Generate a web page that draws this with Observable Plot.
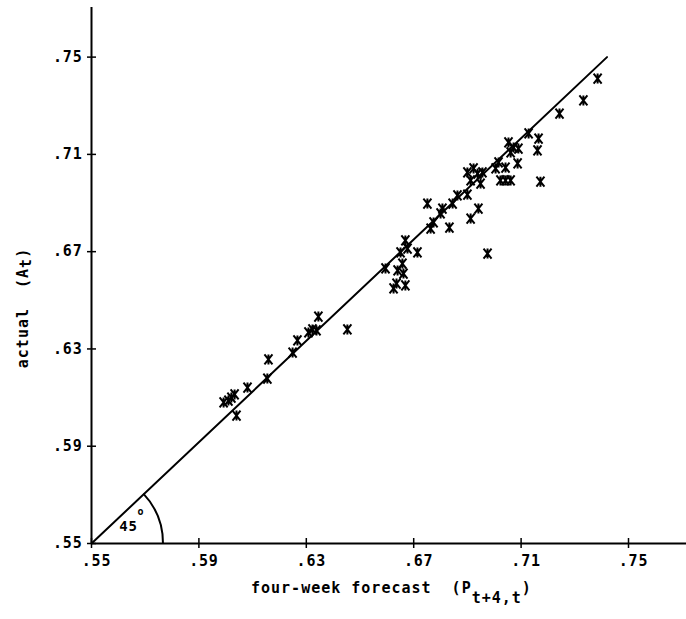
<!DOCTYPE html>
<html><head><meta charset="utf-8">
<script src="https://cdn.jsdelivr.net/npm/d3@7"></script>
<script src="https://cdn.jsdelivr.net/npm/@observablehq/plot@0.6"></script>
<style>
body{margin:0;background:#fff;}
#chart svg{display:block;}
</style></head><body><div id="chart"></div>
<script>
// four-week forecast (x) and actual (y)
const forecast = [0.5992,0.6010,0.6021,0.6033,0.6040,0.6081,0.6155,0.6159,0.6249,0.6267,0.6308,0.6323,0.6338,0.6345,0.6453,
  0.6595,0.6625,0.6636,0.6669,0.6640,0.6662,0.6658,0.6651,0.6669,0.6677,0.6714,0.6751,0.6763,0.6774,0.6800,0.6807,0.6833,0.6845,0.6863,0.6900,0.6912,0.6941,0.6975,
  0.6900,0.6912,0.6923,0.6938,0.6949,0.6956,0.7005,0.7016,0.7023,0.7042,0.7061,0.7042,0.7087,0.7053,0.7061,0.7072,0.7090,0.7128,0.7165,0.7161,0.7172,0.7243,0.7332,0.7385];
const actual = [0.6080,0.6088,0.6100,0.6113,0.6026,0.6141,0.6178,0.6257,0.6285,0.6335,0.6368,0.6380,0.6376,0.6433,0.6380,
  0.6631,0.6549,0.6569,0.6561,0.6623,0.6610,0.6651,0.6697,0.6746,0.6713,0.6697,0.6898,0.6795,0.6820,0.6857,0.6877,0.6799,0.6898,0.6931,0.6935,0.6836,0.6877,0.6692,
  0.7026,0.6993,0.7042,0.7021,0.6980,0.7026,0.7042,0.7067,0.6993,0.6993,0.6993,0.7046,0.7063,0.7149,0.7108,0.7128,0.7124,0.7186,0.7165,0.7116,0.6988,0.7268,0.7322,0.7412];
const xTicks = [0.55,0.59,0.63,0.67,0.71,0.75];
const yTicks = [0.55,0.59,0.63,0.67,0.71,0.75];
const xTickLabels = [".55",".59",".63",".67",".71",".75"];
const yTickLabels = [".55",".59",".63",".67",".71",".75"];
// 45-degree reference line end points
const lineX = [0.55, 0.742];
const lineY = [0.55, 0.750];
const arcRadius = 0.0268; // in forecast units
const angleText = ["45"];
const angleTextPos = [0.5638, 0.557];
const degreeText = ["o"];
const degreePos = [0.5684, 0.5632];

const points = forecast.map((f, i) => ({f, a: actual[i]}));
const refLine = lineX.map((x, i) => ({x, y: lineY[i]}));

const star = {
  draw(ctx, size) {
    const r = Math.sqrt(size / Math.PI);
    const w = r * 0.8;
    ctx.moveTo(-w, -r); ctx.lineTo(w, r);
    ctx.moveTo(w, -r); ctx.lineTo(-w, r);
    ctx.moveTo(0, -r); ctx.lineTo(0, r);
  }
};

function arcMark(index, scales) {
  const cx = scales.x(0.55), cy = scales.y(0.55);
  const r = scales.x(0.55 + arcRadius) - cx;
  const ang = Math.atan2(cy - scales.y(lineY[1]), scales.x(lineX[1]) - cx);
  const p = d3.path();
  p.arc(cx, cy, r, 0, -ang, true);
  return d3.create("svg:path").attr("d", p.toString())
    .attr("fill", "none").attr("stroke", "black").attr("stroke-width", 2).node();
}

const font = "'DejaVu Sans Mono', monospace";

const svg = Plot.plot({
  width: 686,
  height: 619,
  marginLeft: 91,
  marginRight: 0,
  marginTop: 7,
  marginBottom: 76,
  style: {fontFamily: font, fontSize: "15px", fontWeight: "bold", letterSpacing: "0.8px", background: "#fff", color: "black"},
  x: {domain: [0.55, 0.7716], label: null},
  y: {domain: [0.55, 0.7704], label: null},
  marks: [
    Plot.ruleY([0.55], {stroke: "black", strokeWidth: 2}),
    Plot.ruleX([0.55], {stroke: "black", strokeWidth: 2}),
    Plot.ruleX(xTicks, {x: d => d, y1: 0.55, y2: 0.55, insetTop: -5, insetBottom: -5, stroke: "black", strokeWidth: 1.5}),
    Plot.ruleY(yTicks, {y: d => d, x1: 0.55, x2: 0.55, insetLeft: -4, insetRight: -5, stroke: "black", strokeWidth: 1.5}),
    Plot.axisX({ticks: xTicks, tickSize: 0, tickPadding: 12, dx: 5, label: null,
      tickFormat: d => xTickLabels[xTicks.findIndex(t => Math.abs(t - d) < 1e-9)], fill: "black"}),
    Plot.axisY({ticks: yTicks, tickSize: 0, tickPadding: 9, label: null,
      tickFormat: d => yTickLabels[yTicks.findIndex(t => Math.abs(t - d) < 1e-9)], fill: "black"}),
    Plot.line(refLine, {x: "x", y: "y", stroke: "black", strokeWidth: 2}),
    arcMark,
    Plot.dot(points, {x: "f", y: "a", r: 5, symbol: star, stroke: "black", strokeWidth: 2, fill: "none"}),
    Plot.text(angleText, {x: () => angleTextPos[0], y: () => angleTextPos[1], text: d => d, fontSize: 14, fill: "black"}),
    Plot.text(degreeText, {x: () => degreePos[0], y: () => degreePos[1], text: d => d, fontSize: 10, fill: "black"})
  ]
});

const s = d3.select(svg);
// x-axis label with subscript
const xl = s.append("text")
  .attr("x", 251).attr("y", 593)
  .attr("text-anchor", "start")
  .attr("fill", "black")
  .style("font-family", font).style("font-size", "15px").style("font-weight", "bold")
  .style("letter-spacing", "1px").style("white-space", "pre");
xl.append("tspan").text("four-week forecast\u00a0\u00a0(P");
xl.append("tspan").attr("dy", 10).text("t+4,t");
xl.append("tspan").attr("dy", -10).text(")");

// y-axis label with subscript
const yl = s.append("text")
  .attr("transform", "translate(28,308) rotate(-90)")
  .attr("text-anchor", "middle")
  .attr("fill", "black")
  .style("font-family", font).style("font-size", "15px").style("font-weight", "bold")
  .style("letter-spacing", "1px").style("white-space", "pre");
yl.append("tspan").text("actual\u00a0\u00a0(A");
yl.append("tspan").attr("dy", 3).text("t");
yl.append("tspan").attr("dy", -3).text(")");

document.getElementById("chart").appendChild(svg);
</script>
</body></html>
